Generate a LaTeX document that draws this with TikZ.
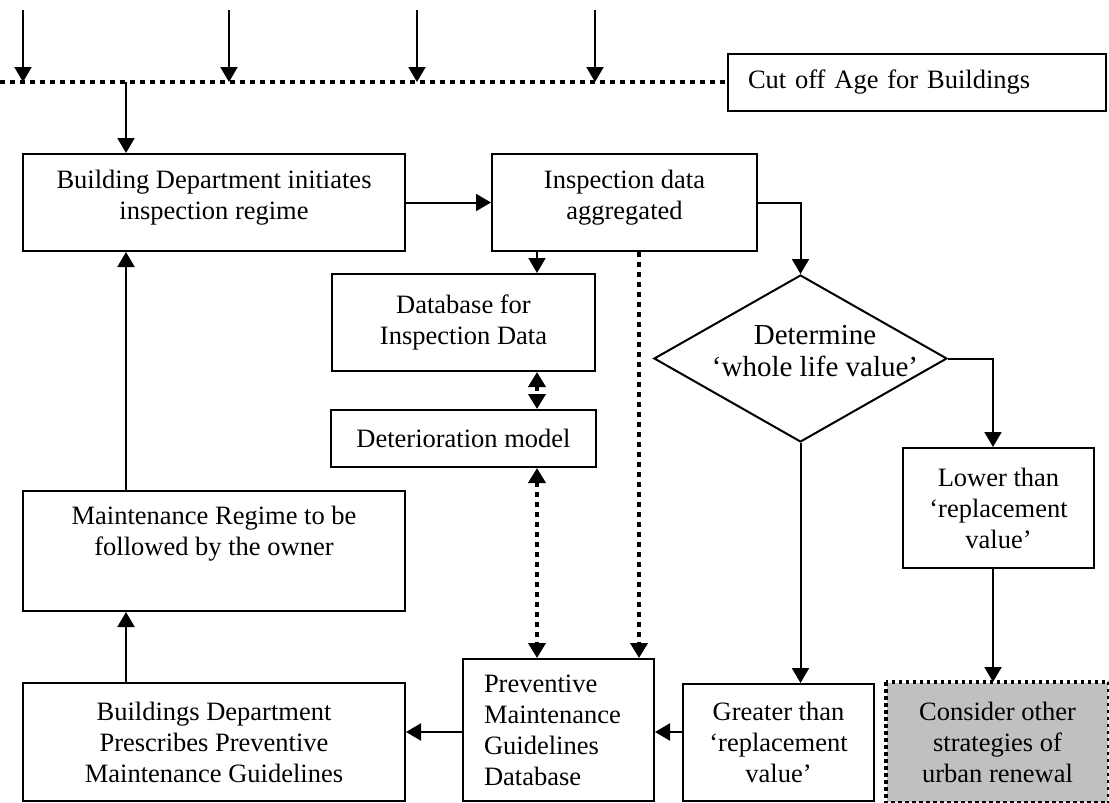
\documentclass[tikz,border=0pt]{standalone}
\usepackage{fontspec}
\setmainfont{Liberation Serif}
\usetikzlibrary{arrows.meta,shapes.geometric}
\begin{document}
\begin{tikzpicture}[x=1pt,y=-1pt,
  txt/.style={font=\fontsize{26.5pt}{31pt}\selectfont, inner sep=0pt, align=center},
  box/.style={txt, draw, line width=2pt},
  tip/.tip={Triangle[width=17pt,length=15pt]},
  arr/.style={line width=2pt, -tip},
  dots/.style={line width=4.5pt, dash pattern=on 4.5pt off 5.5pt},
  dotarr/.style={dots, -tip},
  dotboth/.style={dots, tip-tip},
]
\useasboundingbox (0,0) rectangle (1109,803);

% boxes
\node[box, align=left, text width=338pt, minimum width=378pt, minimum height=57pt] (cut) at (917,82.5) {Cut off Age for Buildings};
\node[box, minimum width=382pt, minimum height=97pt] (b1) at (214,202.5) {};
\node[txt] (b1t) at (214,197.5) {Building Department initiates\\inspection regime};
\node[box, minimum width=265pt, minimum height=97pt] (b2) at (624.5,202.5) {};
\node[txt] (b2t) at (624.5,197.5) {Inspection data\\aggregated};
\node[box, minimum width=263pt, minimum height=97pt] (db) at (463.5,322.5) {Database for\\Inspection Data};
\node[box, minimum width=265pt, minimum height=57pt] (det) at (463.5,438.5) {Deterioration model};
\node[box, minimum width=382pt, minimum height=120pt] (mnt) at (214,551) {};
\node[txt] (mntt) at (214,534) {Maintenance Regime to be\\followed by the owner};
\node[box, minimum width=382pt, minimum height=118pt] (bpg) at (214,742) {Buildings Department\\Prescribes Preventive\\Maintenance Guidelines};
\node[box, align=left, text width=149pt, minimum width=191pt, minimum height=142pt] (pmgd) at (558.5,730) {Preventive\\Maintenance\\Guidelines\\Database};
\node[box, minimum width=191pt, minimum height=117pt] (gt) at (778.5,742.5) {Greater than\\‘replacement\\value’};
\node[box, minimum width=191pt, minimum height=120pt] (lw) at (998.5,508) {Lower than\\‘replacement\\value’};
\node[box, draw=none, fill={rgb,255:red,192;green,192;blue,192}, minimum width=221pt, minimum height=119pt] (gray) at (997.5,742.5) {Consider other\\strategies of\\urban renewal};
\draw[line width=3.5pt, dash pattern=on 3.5pt off 3.5pt] (gray.north west) rectangle (gray.south east);

% decision
\node[diamond, draw, line width=2pt, inner sep=0pt, minimum width=293pt, minimum height=167pt] (dia) at (800.5,358.5) {};
\node[align=center, inner sep=0pt, font=\fontsize{29pt}{32pt}\selectfont] (diatext) at (815,351) {Determine\\‘whole life value’};

% cut-off line and incoming arrows
\coordinate (lstart) at (0,82);
\draw[dots] (lstart) -- (cut.west |- lstart);
\foreach \x [count=\i] in {23,229,417,595} {
  \coordinate (t\i) at (\x,10);
  \coordinate (e\i) at (\x,82);
  \draw[arr] (t\i) -- (e\i);
}

% left column
\coordinate (leftcol) at (126,82);
\draw[arr] (leftcol) -- (b1.north -| leftcol);
\draw[arr] (mnt.north -| leftcol) -- (b1.south -| leftcol);
\draw[arr] (bpg.north -| leftcol) -- (mnt.south -| leftcol);

% top row
\draw[arr] (b1.east) -- (b2.west);
\draw[arr] (b2.east) -| (dia.north);

% databases
\coordinate (dbin) at ([xshift=73.5pt]db.north);
\coordinate (dbout) at ([xshift=73.5pt]db.south);
\draw[arr] (b2.south -| dbin) -- (dbin);
\draw[dotboth] (dbout) -- (det.north -| dbout);
\draw[dotboth] (det.south -| dbout) -- (pmgd.north -| dbout);
\coordinate (pin) at ([xshift=80.5pt]pmgd.north);
\draw[dotarr] (b2.south -| pin) -- (pin);

% decision outcomes
\coordinate (lwin) at ([xshift=-5.5pt]lw.north);
\draw[arr] (dia.east) -| (lwin);
\draw[arr] (dia.south) -- (dia.south |- gt.north);
\draw[arr] (lw.south -| lwin) -- (gray.north -| lwin);

% bottom row
\coordinate (row) at ([yshift=10.5pt]gt.west);
\draw[arr] (row) -- (pmgd.east |- row);
\draw[arr] (pmgd.west |- row) -- (bpg.east |- row);
\end{tikzpicture}
\end{document}
